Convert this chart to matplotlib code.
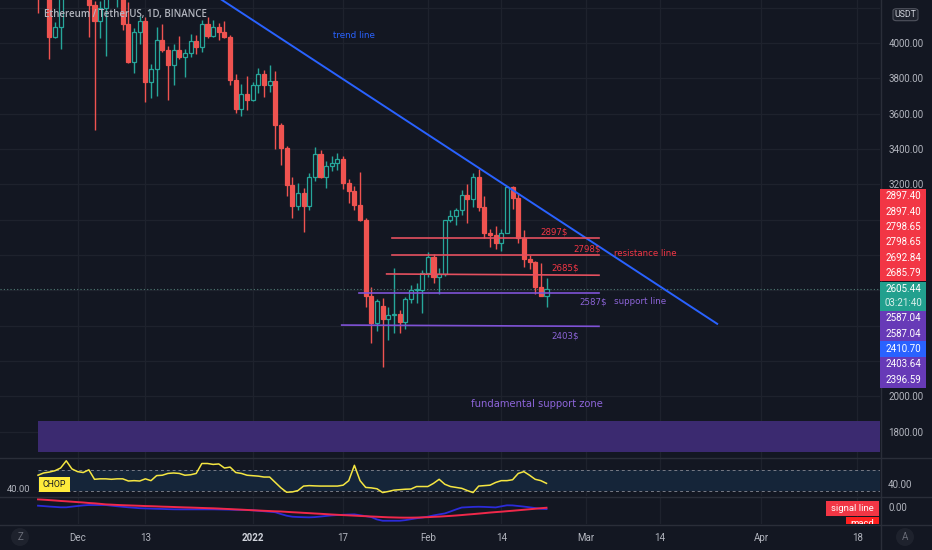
import matplotlib
matplotlib.use('Agg')
import matplotlib.pyplot as plt
import matplotlib.dates as mdates
from matplotlib.patches import Rectangle, FancyBboxPatch, Ellipse
import numpy as np
import pandas as pd

# ---------------- data ----------------
dates = pd.date_range('2021-11-24', '2022-02-22', freq='D')
opens = [4339, 4271, 4524, 4035, 4092, 4294, 4444, 4631, 4587, 4518,
         4215, 4125, 4200, 4346, 4307, 4433, 4105, 3893, 4065, 4126,
         3778, 3850, 4017, 3960, 3875, 3958, 3922, 3942, 4010, 3975,
         4107, 4042, 4090, 4062, 4034, 3790, 3627, 3710, 3676, 3764,
         3826, 3765, 3785, 3535, 3403, 3196, 3078, 3150, 3080, 3243,
         3371, 3240, 3305, 3322, 3342, 3208, 3160, 3083, 2998, 2567,
         2413, 2510, 2440, 2460, 2465, 2420, 2550, 2600, 2603, 2697,
         2787, 2674, 2690, 2997, 3022, 3054, 3140, 3116, 3243, 3070,
         2925, 2916, 2869, 2925, 3184, 3122, 2895, 2776, 2760, 2619,
         2570]
highs = [4373, 4550, 4550, 4120, 4300, 4450, 4778, 4778, 4651, 4649,
         4240, 4240, 4350, 4422, 4440, 4486, 4232, 4087, 4150, 4147,
         3880, 4090, 4105, 3985, 3995, 4038, 3966, 4053, 4045, 4130,
         4148, 4128, 4112, 4125, 4045, 3825, 3766, 3812, 3778, 3856,
         3847, 3877, 3844, 3550, 3419, 3244, 3206, 3180, 3263, 3413,
         3397, 3334, 3363, 3380, 3358, 3233, 3189, 3271, 3008, 2620,
         2550, 2555, 2504, 2727, 2490, 2560, 2630, 2640, 2718, 2815,
         2805, 2725, 3000, 3055, 3064, 3170, 3200, 3262, 3285, 3135,
         2950, 2964, 2950, 3190, 3189, 3150, 2940, 2800, 2765, 2755,
         2670]
lows = [4170, 4250, 3910, 4030, 3965, 4280, 4333, 4500, 4427, 4035,
        3507, 4030, 3925, 4260, 4205, 4075, 3888, 3830, 3993, 3668,
        3688, 3700, 3947, 3677, 3765, 3908, 3806, 3922, 3940, 3947,
        4030, 4034, 4015, 4027, 3763, 3603, 3587, 3622, 3670, 3717,
        3695, 3720, 3400, 3308, 3132, 3008, 3053, 2930, 3057, 3221,
        3238, 3180, 3278, 3283, 3175, 3097, 3053, 2990, 2505, 2300,
        2370, 2166, 2320, 2360, 2360, 2380, 2526, 2530, 2470, 2677,
        2640, 2580, 2681, 2985, 2970, 3026, 2979, 3074, 3049, 2895,
        2848, 2833, 2820, 2925, 3062, 2870, 2735, 2722, 2580, 2567,
        2508]
closes = [4271, 4524, 4035, 4092, 4294, 4444, 4631, 4587, 4518, 4215,
          4125, 4200, 4346, 4307, 4433, 4105, 3893, 4065, 4126, 3778,
          3850, 4017, 3960, 3875, 3958, 3922, 3942, 4010, 3975, 4107,
          4042, 4090, 4062, 4034, 3790, 3627, 3710, 3676, 3764, 3826,
          3765, 3785, 3535, 3403, 3196, 3078, 3150, 3080, 3243, 3371,
          3240, 3305, 3322, 3342, 3208, 3160, 3083, 2998, 2567, 2413,
          2540, 2440, 2460, 2465, 2420, 2550, 2600, 2603, 2697, 2787,
          2674, 2690, 2997, 3022, 3054, 3140, 3116, 3243, 3070, 2925,
          2916, 2869, 2925, 3184, 3122, 2895, 2776, 2760, 2619, 2570,
          2605.44]

chop = [56, 58.5, 59.5, 61, 64, 72, 63, 60, 59, 62,
        51.5, 52, 52, 51.5, 52, 52, 49.6, 50, 49.6, 52,
        50, 55.6, 56, 58, 58.5, 58, 56, 56.5, 58, 69,
        69, 68, 68.5, 64, 65, 59, 58, 56, 55.5, 55,
        54, 54, 48, 42, 37.2, 37.5, 39, 44, 44.5, 44.2,
        44, 44, 44, 44, 45, 50, 67, 50, 42.5, 42,
        41, 36.8, 38, 39.5, 40, 40.5, 40.7, 43.5, 43.5, 43.5,
        47, 51.5, 46, 43.5, 42.5, 41.5, 39, 36.8, 44, 44.5,
        45, 48, 50, 50, 51, 58, 60, 56, 51.5, 50,
        47]
chop_upper, chop_lower = 61.8, 38.2

macd = [33, 25, 16, 9, 1, 1, 14, 27, 39, 46,
        46, 46, 46, 34, 22, 11, 1, -8, -17, -21,
        -25, -29, -32, -36, -39, -40, -40, -40, -40, -40,
        -40, -40, -42, -44, -46, -49, -51, -53, -59, -69,
        -78, -88, -98, -134, -167, -187, -193, -197, -200, -195,
        -184, -172, -161, -154, -148, -144, -141, -158, -176, -195,
        -242, -268, -268, -268, -268, -256, -237, -218, -204, -186,
        -162, -141, -122, -83, -41, -3, 3, 9, 12, 9,
        4, -1, 20, 41, 39, 27, 15, 1, -14, -29,
        -34]
signal = [160, 153, 145, 137, 128, 121, 113, 105, 97, 87,
          80, 70, 59, 54, 48, 43, 39, 35, 31, 26,
          23, 19, 14, 11, 7, 3, -1, -4, -8, -12,
          -16, -19, -24, -30, -35, -41, -46, -52, -58, -63,
          -69, -74, -79, -83, -90, -97, -103, -110, -116, -123,
          -129, -136, -143, -149, -155, -160, -166, -172, -177, -183,
          -188, -194, -199, -202, -205, -206, -206, -204, -200, -196,
          -190, -185, -178, -171, -163, -154, -144, -135, -125, -115,
          -104, -95, -87, -77, -68, -58, -48, -38, -28, -17,
          -8]

trend_dates = ['2021-12-01 00:00', '2022-03-24 05:00']
trend_prices = [4778.0, 2410.70]

res_starts = ['2022-01-25 15:00', '2022-01-25 15:00', '2022-01-24 17:00']
res_ends = ['2022-03-03 07:00', '2022-03-03 07:00', '2022-03-03 07:00']
res_left = [2897.40, 2798.65, 2692.84]
res_right = [2897.40, 2798.65, 2685.79]
res_names = ['2897$', '2798$', '2685$']

sup_starts = ['2022-01-19 19:00', '2022-01-16 18:00']
sup_ends = ['2022-03-03 07:00', '2022-03-03 07:00']
sup_left = [2587.04, 2403.64]
sup_right = [2587.04, 2396.59]
sup_names = ['2587$', '2403$']

zone_start = '2021-11-24 00:00'
zone_low, zone_high = 1688, 1858

last_price = 2605.44
countdown = '03:21:40'

price_ticks = [1800, 2000, 2200, 2400, 2600, 2800, 3000, 3200, 3400, 3600, 3800, 4000, 4200]
hidden_ticks = [2200, 2400, 2600, 2800, 3000, 4200]   # covered by labels / currency badge
tick_dates = ['2021-12-01', '2021-12-13', '2022-01-01', '2022-01-17', '2022-02-01',
              '2022-02-14', '2022-03-01', '2022-03-14', '2022-04-01', '2022-04-18']
tick_labels = ['Dec', '13', '2022', '17', 'Feb', '14', 'Mar', '14', 'Apr', '18']


def tnum_of(strs):
    return mdates.date2num(pd.to_datetime(strs, format='mixed'))


# ---------------- style ----------------
BG = '#131722'
GRID = '#1e222d'
SEP = '#2a2e39'
TXT = '#b2b5be'
UP = '#26a69a'
DOWN = '#ef5350'
RED_LINE = '#e5505f'
PURPLE_LINE = '#7f52d6'
RED_TXT = '#f23645'
PURPLE_TXT = '#8c64d8'
NUMFONT = 'Roboto'

W, H = 932, 550
fig = plt.figure(figsize=(W / 100, H / 100), dpi=100, facecolor=BG)


def fx(px):
    return px / W


def fy(py):
    return 1 - py / H


xnum = mdates.date2num(dates)
x0 = xnum[0]
PXD = 5.65
XL = (x0 - 38 / PXD, x0 + (880 - 38) / PXD)
tnum = tnum_of(tick_dates)

ax = fig.add_axes([0, fy(457), 880 / W, 457 / H])
axc = fig.add_axes([0, fy(496), 880 / W, 39 / H])
axm = fig.add_axes([0, fy(524), 880 / W, 27 / H])
for a in (ax, axc, axm):
    a.set_facecolor(BG)
    a.set_xlim(*XL)
    for s in a.spines.values():
        s.set_visible(False)
    a.set_xticks(tnum)
    a.tick_params(length=0, colors=TXT)
    a.grid(axis='x', color=GRID, lw=0.9, zorder=0)
    a.set_axisbelow(True)

# ---------------- main pane ----------------
ax.set_ylim(1657, 4243.3)
ax.yaxis.tick_right()
ax.set_yticks(price_ticks)
ax.set_yticklabels(['' if v in hidden_ticks else f'{v:.2f}' for v in price_ticks],
                   fontsize=7, family=NUMFONT, color=TXT)
ax.tick_params(axis='y', pad=6)
ax.grid(axis='y', color=GRID, lw=0.9, zorder=0)
ax.set_xticklabels([])

o = np.array(opens, float); c = np.array(closes, float)
h = np.array(highs, float); l = np.array(lows, float)
up = c >= o
cols = np.where(up, UP, DOWN)
ax.vlines(xnum, l, h, colors=cols, lw=1.0, zorder=2)
bottoms = np.minimum(o, c)
heights = np.maximum(np.abs(c - o), 5)
ax.bar(xnum, heights, 0.72, bottom=bottoms, color=np.where(up, BG, DOWN),
       edgecolor=cols, linewidth=0.9, zorder=3)

# support zone
zs = tnum_of([zone_start])[0]
ax.add_patch(Rectangle((zs, zone_low), XL[1] - zs + 5, zone_high - zone_low,
                       facecolor='#3b2a70', edgecolor='none', zorder=1))

# current price dotted line
ax.axhline(last_price, color='#4f7a74', lw=0.8, ls=(0, (1, 2)), zorder=2)

# trend line
ax.plot(tnum_of(trend_dates), trend_prices, color='#2962ff', lw=1.4, zorder=4)

# resistance / support lines
for s, e, pl, pr in zip(res_starts, res_ends, res_left, res_right):
    ax.plot(tnum_of([s, e]), [pl, pr], color=RED_LINE, lw=1.2, zorder=4)
for s, e, pl, pr in zip(sup_starts, sup_ends, sup_left, sup_right):
    ax.plot(tnum_of([s, e]), [pl, pr], color=PURPLE_LINE, lw=1.2, zorder=4)

# annotations (pixel layout)
fig.text(fx(44), fy(15), 'Ethereum / TetherUS, 1D, BINANCE', color=TXT, fontsize=7,
         family='Open Sans', weight='semibold', va='center', ha='left', zorder=6)
fig.text(fx(354), fy(36), 'trend line', color='#2962ff', fontsize=6.3, ha='center', va='center')
for name, (px, py) in zip(res_names, [(554, 232), (587, 249), (565, 268)]):
    fig.text(fx(px), fy(py), name, color=RED_TXT, fontsize=6.2, ha='center', va='center')
fig.text(fx(645), fy(254), 'resistance line', color=RED_TXT, fontsize=6.2, ha='center', va='center')
for name, (px, py) in zip(sup_names, [(593, 302), (565, 336)]):
    fig.text(fx(px), fy(py), name, color=PURPLE_TXT, fontsize=6.2, ha='center', va='center')
fig.text(fx(640), fy(302), 'support line', color=PURPLE_TXT, fontsize=6.3, ha='center', va='center')
fig.text(fx(537), fy(404), 'fundamental support zone', color=PURPLE_TXT, fontsize=7.2, ha='center', va='center')

# ---------------- CHOP pane ----------------
axc.set_ylim(33.0, 76.2)
axc.set_yticks([])
axc.set_xticklabels([])
xb = x0
axc.fill_between([xb, XL[1]], chop_lower, chop_upper, color='#152539', lw=0, zorder=1)
for lev in (chop_upper, chop_lower):
    axc.plot([xb, XL[1]], [lev, lev], color='#787b86', lw=0.7, ls=(0, (3, 3)), zorder=2)
axc.plot(xnum, chop, color='#f5e642', lw=1.1, zorder=3)

# ---------------- MACD pane ----------------
axm.set_ylim(-333, 207)
axm.yaxis.tick_right()
axm.set_yticks([0])
axm.set_yticklabels(['0.00'], fontsize=7, family=NUMFONT, color=TXT)
axm.tick_params(axis='y', pad=6)
axm.plot(xnum, macd, color='#2b2bd9', lw=1.3, zorder=3)
axm.plot(xnum, signal, color='#f0284a', lw=1.4, zorder=4)
axm.set_xticklabels(tick_labels, fontsize=7, family=NUMFONT, color=TXT)
axm.tick_params(axis='x', pad=6.5)
for lab in axm.get_xticklabels():
    if lab.get_text() == '2022':
        lab.set_fontweight('bold')
        lab.set_color('#d1d4dc')

# ---------------- separators ----------------
for yy in (457.5, 496.5, 524.5):
    fig.add_artist(plt.Line2D([0, 1], [fy(yy), fy(yy)], color=SEP, lw=1, transform=fig.transFigure))
fig.add_artist(plt.Line2D([fx(880.5), fx(880.5)], [0, 1], color=SEP, lw=1, transform=fig.transFigure))


def box(x0p, y0p, x1p, y1p, color, zorder=5):
    fig.add_artist(Rectangle((fx(x0p), fy(y1p)), fx(x1p) - fx(x0p), (y1p - y0p) / H,
                             transform=fig.transFigure, facecolor=color, edgecolor='none', zorder=zorder))


def label(xc, yc, s, color='white', size=7, family=NUMFONT, ha='center'):
    fig.text(fx(xc), fy(yc), s, color=color, fontsize=size, family=family, ha=ha, va='center', zorder=7)


# right price labels (stacked)
red_vals = [res_left[0], res_right[0], res_left[1], res_right[1], res_left[2], res_right[2]]
slot = 15.4
top = 188.5
for i, v in enumerate(red_vals):
    box(879.5, top + i * slot, 926, top + (i + 1) * slot + 0.3, '#f23645')
    label(903, top + i * slot + slot / 2, f'{v:.2f}')
box(879.5, 281.5, 926, 310.5, '#22a08e')
label(903, 289.3, f'{last_price:.2f}')
label(903, 303.3, countdown, color='#d9efeb')
stack = [(sup_left[0], '#673ab7'), (sup_right[0], '#673ab7'), (trend_prices[1], '#2962ff'),
         (sup_left[1], '#673ab7'), (sup_right[1], '#673ab7')]
top2 = 310.5
for i, (v, col) in enumerate(stack):
    box(879.5, top2 + i * slot, 926, top2 + (i + 1) * slot + 0.3, col)
    label(903, top2 + i * slot + slot / 2, f'{v:.2f}')

# USDT badge
fig.add_artist(FancyBboxPatch((fx(893), fy(20.7)), fx(918) - fx(893), 12 / H,
                              boxstyle='round,pad=0,rounding_size=0.004', transform=fig.transFigure,
                              facecolor='#1e222d', edgecolor='#50535e', lw=0.8, zorder=6))
label(905.5, 14.8, 'USDT', color='#d1d4dc', size=6.3)

# CHOP labels
box(39, 477, 70, 491.5, '#ffeb3b', zorder=6)
label(54.5, 484.3, 'CHOP', color='#131722', size=6.3)
label(7, 490, '40.00', color=TXT, size=6.8, ha='left')
label(888, 485, '40.00', color=TXT, size=7, ha='left')

# MACD labels
box(826, 501, 879.3, 516, '#f23645', zorder=6)
label(852.6, 508.3, 'signal line', size=6.8)
axm.add_patch(Rectangle((fx(846), fy(527)), fx(879) - fx(846), 9.7 / H, transform=fig.transFigure,
                        facecolor='#ff1f1f', edgecolor='none', zorder=6, clip_on=True))
axm.text(fx(862.5), fy(523.2), 'macd', transform=fig.transFigure, color='white', fontsize=6.8,
         family=NUMFONT, ha='center', va='center', zorder=7, clip_on=True)

# bottom buttons
for (bx, by, s) in [(20, 537, 'Z'), (905, 537, 'A')]:
    fig.add_artist(Ellipse((fx(bx), fy(by)), 18 / W, 18 / H, transform=fig.transFigure,
                           facecolor='#1e222d', edgecolor='none', zorder=5))
    label(bx, by, s, color='#6a6d78', size=7)

fig.savefig('out.png', dpi=100, facecolor=BG)
